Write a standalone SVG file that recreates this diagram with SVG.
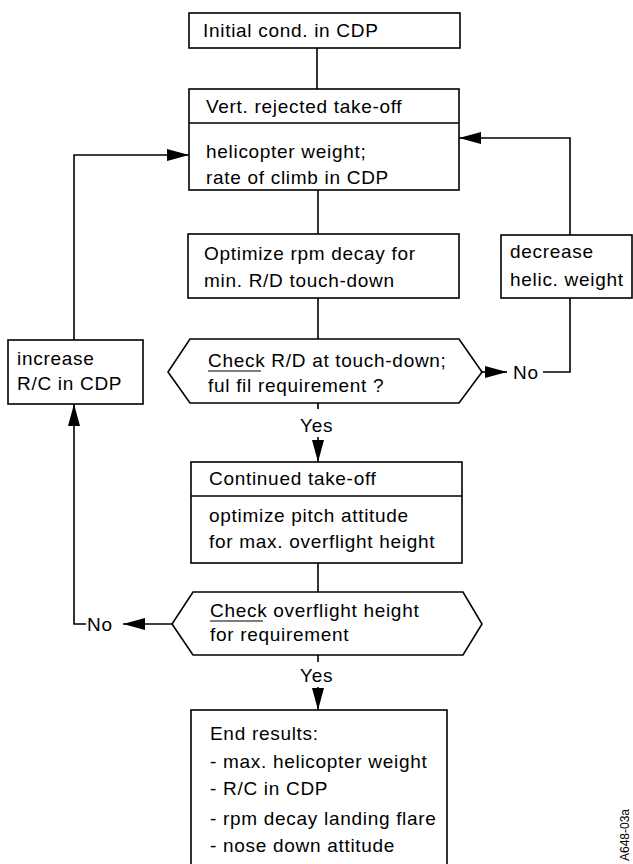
<svg xmlns="http://www.w3.org/2000/svg" width="633" height="864" viewBox="0 0 633 864">
<style>
.box{fill:#fff;stroke:#000;stroke-width:1.6}
.div{stroke:#000;stroke-width:1.6}
.t{font-family:"Liberation Sans",Arial,sans-serif;font-size:19px;letter-spacing:0.7px;fill:#000}
.c{fill:none;stroke:#000;stroke-width:1.6}
.ul{stroke:#000;stroke-width:1.2}
</style>
<defs>
<marker id="ah" markerUnits="userSpaceOnUse" markerWidth="22" markerHeight="12" refX="22" refY="6" orient="auto">
<path d="M0,0 L22,6 L0,12 z" fill="#000"/>
</marker>
</defs>
<g id="connectors">
<path class="c" d="M317,48 V89"/>
<path class="c" d="M318,190 V234"/>
<path class="c" d="M318,298 V339"/>
<path class="c" d="M318,563 V592"/>
<path class="c" d="M74,340 V155 H189" marker-end="url(#ah)"/>
<path class="c" d="M570,235 V138 H459" marker-end="url(#ah)"/>
<path class="c" d="M482,372 H507" marker-end="url(#ah)"/>
<path class="c" d="M543,372 H570 V298"/>
<path class="c" d="M318,403 V409"/>
<path class="c" d="M318,437 V462" marker-end="url(#ah)"/>
<path class="c" d="M172,624 H123" marker-end="url(#ah)"/>
<path class="c" d="M86,624 H74 V404" marker-end="url(#ah)"/>
<path class="c" d="M318,655 V662"/>
<path class="c" d="M318,687 V710" marker-end="url(#ah)"/>
<text class="t" x="513" y="379">No</text>
<text class="t" x="87" y="631">No</text>
<text class="t" x="300" y="432">Yes</text>
<text class="t" x="300" y="682">Yes</text>
</g>
<g id="initial">
<rect class="box" x="189" y="13" width="271" height="35"/>
<text class="t" x="203" y="37">Initial cond. in CDP</text>
</g>
<g id="vert-rejected">
<rect class="box" x="189" y="89" width="270" height="101"/>
<line class="div" x1="189" y1="123" x2="459" y2="123"/>
<text class="t" x="206" y="113">Vert. rejected take-off</text>
<text class="t" x="206" y="158">helicopter weight;</text>
<text class="t" x="206" y="184">rate of climb in CDP</text>
</g>
<g id="optimize-rpm">
<rect class="box" x="188" y="234" width="271" height="64"/>
<text class="t" x="204" y="260">Optimize rpm decay for</text>
<text class="t" x="204" y="287">min. R/D touch-down</text>
</g>
<g id="decrease">
<rect class="box" x="501" y="235" width="131" height="63"/>
<text class="t" x="510" y="258">decrease</text>
<text class="t" x="510" y="286">helic. weight</text>
</g>
<g id="increase">
<rect class="box" x="8" y="340" width="135" height="64"/>
<text class="t" x="17" y="365">increase</text>
<text class="t" x="17" y="390">R/C in CDP</text>
</g>
<g id="check-rd">
<polygon class="box" points="190,339 459,339 482,372 459,403 190,403 168,372"/>
<text class="t" x="208" y="367">Check R/D at touch-down;</text>
<line class="ul" x1="208" y1="371" x2="261" y2="371"/>
<text class="t" x="208" y="392">ful fil requirement ?</text>
</g>
<g id="continued">
<rect class="box" x="191" y="462" width="271" height="101"/>
<line class="div" x1="191" y1="496" x2="462" y2="496"/>
<text class="t" x="209" y="485">Continued take-off</text>
<text class="t" x="209" y="522">optimize pitch attitude</text>
<text class="t" x="209" y="548">for max. overflight height</text>
</g>
<g id="check-overflight">
<polygon class="box" points="193,592 463,592 482,624 463,655 193,655 172,624"/>
<text class="t" x="210" y="617">Check overflight height</text>
<line class="ul" x1="210" y1="621" x2="263" y2="621"/>
<text class="t" x="210" y="641">for requirement</text>
</g>
<g id="end-results">
<rect class="box" x="191" y="710" width="256" height="170"/>
<text class="t" x="210" y="740">End results:</text>
<text class="t" x="210" y="768">- max. helicopter weight</text>
<text class="t" x="210" y="795">- R/C in CDP</text>
<text class="t" x="210" y="825">- rpm decay landing flare</text>
<text class="t" x="210" y="852">- nose down attitude</text>
</g>
<text font-family="Liberation Sans,Arial,sans-serif" font-size="12" transform="translate(629,861) rotate(-90)">A648-03a</text>
</svg>
